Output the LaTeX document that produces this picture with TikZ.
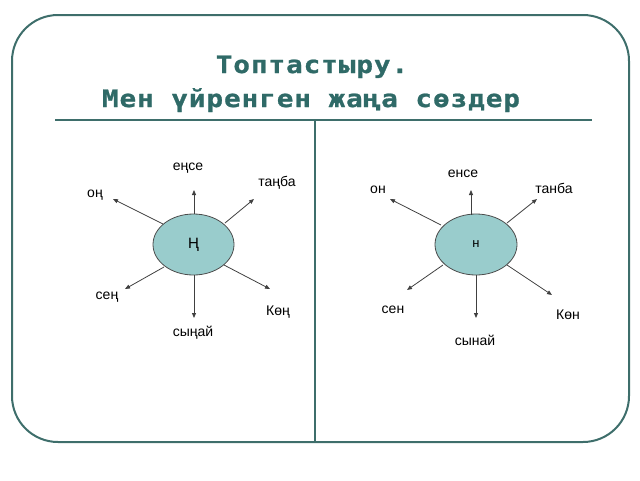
\documentclass[tikz,border=0pt]{standalone}
\usepackage{fontspec}
\setmainfont{Liberation Sans}
\newfontfamily\titlefont[FakeStretch=1.15,LetterSpace=4,FakeBold=1]{DejaVu Sans Mono Bold}
\usetikzlibrary{shapes.geometric,arrows.meta}
\definecolor{frame}{HTML}{3E6E6B}
\definecolor{ttl}{HTML}{2F6A67}
\definecolor{blob}{HTML}{99CCCC}
\tikzset{
  frameline/.style={draw=frame,line width=2pt},
  hub/.style={ellipse,draw=black!70,line width=0.8pt,fill=blob,inner sep=0pt,font=\fontsize{15}{15}\selectfont},
  ray/.style={draw=black!75,line width=0.8pt,-{Triangle[length=5pt,width=4pt]}},
  word/.style={font=\fontsize{14}{14}\selectfont,inner sep=0pt},
  ttlnode/.style={text=ttl,font=\fontsize{24}{24}\titlefont,inner sep=0pt,anchor=base}
}
\begin{document}
\begin{tikzpicture}[x=1pt,y=-1pt]
\useasboundingbox (0,0) rectangle (640,480);
% frame
\draw[frameline,rounded corners=46pt] (12,15) rectangle (629,442);
\coordinate (hl) at (55,119.5);
\coordinate (hr) at (592,119.5);
\coordinate (vt) at (314.5,119.5);
\coordinate (vb) at (314.5,442);
\draw[frameline] (hl) -- (hr);
\draw[frameline] (vt) -- (vb);
% title
\node[ttlnode] (t1) at (312,73) {Топтастыру.};
\node[ttlnode] (t2) at (311,107) {Мен үйренген жаңа сөздер};
% left hub
\node[hub,minimum width=81pt,minimum height=61pt] (L) at (193.5,244.5) {Ң};
\coordinate (L1) at (194,190);
\coordinate (L2) at (254,199);
\coordinate (L3) at (113,199);
\coordinate (L4) at (125,289);
\coordinate (L5) at (270,289);
\coordinate (L6) at (194,318);
\draw[ray] (L.north -| L1) -- (L1);
\draw[ray] (225,223) -- (L2);
\draw[ray] (163,224) -- (L3);
\draw[ray] (164,267) -- (L4);
\draw[ray] (224,265) -- (L5);
\draw[ray] (L.south -| L6) -- (L6);
\node[word] (le1) at (188,168) {еңсе};
\node[word] (le2) at (277,183) {таңба};
\node[word] (le3) at (95,195) {оң};
\node[word] (le4) at (107,297) {сең};
\node[word] (le5) at (278,312) {Көң};
\node[word] (le6) at (193,333) {сыңай};
% right hub
\node[hub,minimum width=82pt,minimum height=61pt,font=\fontsize{13}{13}\selectfont] (R) at (476,244.5) {н};
\coordinate (R1) at (471,190);
\coordinate (R2) at (537,199);
\coordinate (R3) at (390,199);
\coordinate (R4) at (407,290);
\coordinate (R5) at (552,295);
\coordinate (R6) at (476,318);
\draw[ray] (471,214.5) -- (R1);
\draw[ray] (507,223) -- (R2);
\draw[ray] (441,225) -- (R3);
\draw[ray] (443,265) -- (R4);
\draw[ray] (507,265) -- (R5);
\draw[ray] (R.south -| R6) -- (R6);
\node[word] (re1) at (463,174) {енсе};
\node[word] (re2) at (554,188) {танба};
\node[word] (re3) at (378,190) {он};
\node[word] (re4) at (393,310) {сен};
\node[word] (re5) at (568,315) {Көн};
\node[word] (re6) at (475,340) {сынай};
\end{tikzpicture}
\end{document}
